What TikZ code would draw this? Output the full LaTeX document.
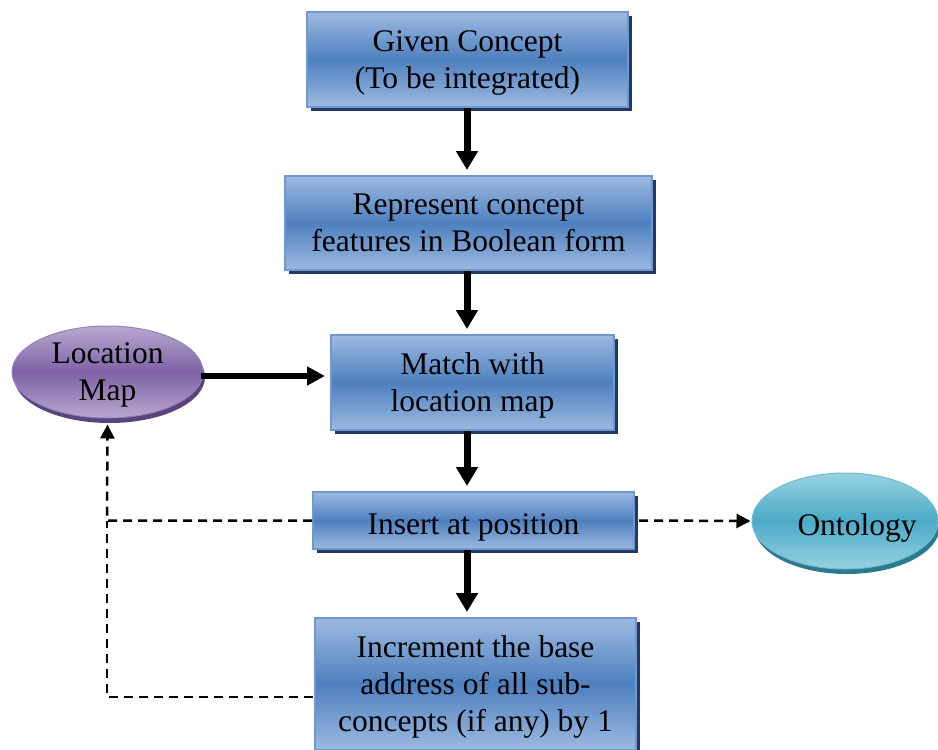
\documentclass[tikz,border=0pt]{standalone}
\usepackage{fontspec}
\setmainfont{Liberation Serif}
\usetikzlibrary{shadows,arrows.meta,calc,shapes.geometric}
\definecolor{bluetop}{HTML}{9DBAE0}
\definecolor{bluemid}{HTML}{4E80BF}
\definecolor{blueedge}{HTML}{6F98D0}
\definecolor{blueshadow}{HTML}{1F3A66}
\definecolor{purtop}{HTML}{B9A8D0}
\definecolor{purmid}{HTML}{7E62A5}
\definecolor{purshadow}{HTML}{5A4480}
\definecolor{cyantop}{HTML}{98D2E2}
\definecolor{cyanmid}{HTML}{4BAAC6}
\definecolor{cyanshadow}{HTML}{2C7A90}
\tikzset{
  basetext/.style={align=center, inner sep=0pt, font=\fontsize{31.5}{37}\selectfont,
    text depth=0pt, execute at begin node={\rule{0pt}{28pt}}},
  procbox/.style={rectangle, draw=blueedge, line width=2pt,
    top color=bluetop, bottom color=bluetop, middle color=bluemid,
    drop shadow={shadow xshift=4pt, shadow yshift=-4pt, fill=blueshadow, opacity=1},
    basetext},
  purpell/.style={ellipse, draw=purmid!80!white, line width=1pt,
    top color=purtop, bottom color=purtop, middle color=purmid,
    drop shadow={shadow xshift=2pt, shadow yshift=-5pt, fill=purshadow, opacity=1},
    basetext, inner ysep=-12pt, execute at begin node={\rule{0pt}{41pt}}},
  cyanell/.style={ellipse, draw=cyanmid!80!white, line width=1pt,
    top color=cyantop, bottom color=cyantop, middle color=cyanmid,
    drop shadow={shadow xshift=2pt, shadow yshift=-5pt, fill=cyanshadow, opacity=1},
    basetext},
  flowarrow/.style={line width=7pt, -{Triangle[length=19pt,width=21pt]}, shorten >=5pt},
  dasharrow/.style={line width=2.5pt, dash pattern=on 9pt off 6pt},
  dashtip/.style={-{Triangle[length=14pt,width=14pt]}},
}
\begin{document}
\begin{tikzpicture}[x=1pt,y=-1pt]
\useasboundingbox (0,0) rectangle (938,750);
\node[procbox, minimum width=321pt, minimum height=95pt] (b1) at (467.5,59.5) {Given Concept\\(To be integrated)};
\node[procbox, minimum width=367pt, minimum height=94pt] (b2) at (468.5,223) {Represent concept\\features in Boolean form};
\node[procbox, minimum width=283pt, minimum height=95pt] (b3) at (472.5,382.5) {Match with\\location map};
\node[procbox, minimum width=321pt, minimum height=57pt] (b4) at (473.5,520.5) {Insert at position};
\node[procbox, minimum width=321pt, minimum height=132pt] (b5) at (475.5,684) {Increment the base\\address of all sub-\\concepts (if any) by 1};
\node[purpell, minimum width=191pt, minimum height=92pt] (loc) at (107.5,372) {Location\\Map};
\node[cyanell, minimum width=186pt, minimum height=96pt] (ont) at (845,521) {\hspace*{12pt}Ontology\hspace*{-12pt}};
\coordinate (ax) at (467,0);
\draw[flowarrow] (b1.south -| ax) -- (b2.north -| ax);
\draw[flowarrow] (b2.south -| ax) -- (b3.north -| ax);
\draw[flowarrow] (b3.south -| ax) -- (b4.north -| ax);
\draw[flowarrow] (b4.south -| ax) -- (b5.north -| ax);
\coordinate (la) at (201,376);
\coordinate (lb) at (b3.west |- la);
\draw[flowarrow, line width=6.5pt, -{Triangle[length=18pt,width=18pt]}, shorten >=5pt] (la) -- (lb);
\coordinate (lx) at (107,0);
\coordinate (c5) at (313,697);
\draw[dasharrow, dashtip, shorten >=6pt] (b4.west) -- (b4.west -| lx) -- (loc.south);
\draw[dasharrow] (c5) -- (c5 -| lx) -- (b4.west -| lx);
\draw[dasharrow, dashtip, shorten >=1pt] ([xshift=4pt]b4.east) -- (ont.west);
\end{tikzpicture}
\end{document}
